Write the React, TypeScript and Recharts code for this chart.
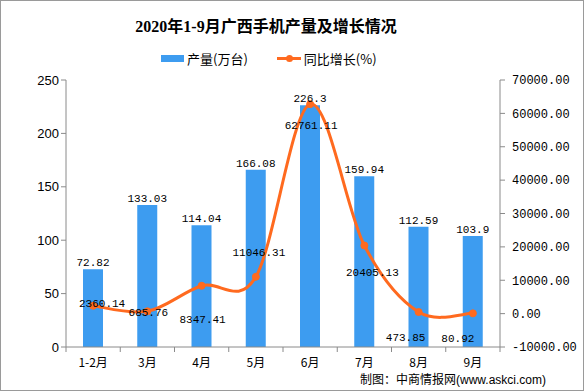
import { ComposedChart, Bar, Line, XAxis, YAxis, LabelList } from "recharts";

const MONTHS = ["1-2月", "3月", "4月", "5月", "6月", "7月", "8月", "9月"];
const OUTPUT = [72.82, 133.03, 114.04, 166.08, 226.3, 159.94, 112.59, 103.9];
const GROWTH = [2360.14, 685.76, 8347.41, 11046.31, 62761.11, 20405.13, 473.85, 80.92];
const LEFT_TICKS = [0, 50, 100, 150, 200, 250];
const RIGHT_TICKS = [-10000, 0, 10000, 20000, 30000, 40000, 50000, 60000, 70000];

// label nudges for the growth line, [dx, dy] from the point
const GROWTH_LABEL_NUDGE: [number, number][] = [
  [9, -3], [1, 1], [1, 33], [3, -25], [1, 21], [8, 26], [-13, 25], [-15, 25],
];

const W = 584;
const H = 391;
const PLOT_LEFT = 66;
const PLOT_RIGHT = 500;
const PLOT_TOP = 80;
const PLOT_BOTTOM = 347;
const BAND = (PLOT_RIGHT - PLOT_LEFT) / MONTHS.length;

const BLUE = "#3d9cf0";
const ORANGE = "#ff6a1f";
const AXIS = "#8a8a8a";
const CJK = "'Noto Sans CJK SC', 'Liberation Sans', sans-serif";
const MONO = "'Liberation Mono', 'Noto Sans CJK SC', monospace";

const data = MONTHS.map((m, i) => ({ month: m, output: OUTPUT[i], growth: GROWTH[i] }));

// catmull-rom style smoothing, like the spreadsheet "smoothed line"
function smoothCurve(context: any) {
  let pts: [number, number][] = [];
  return {
    areaStart() {},
    areaEnd() {},
    lineStart() {
      pts = [];
    },
    lineEnd() {
      if (!pts.length) return;
      context.moveTo(pts[0][0], pts[0][1]);
      for (let i = 0; i < pts.length - 1; i++) {
        const p0 = pts[Math.max(0, i - 1)];
        const p1 = pts[i];
        const p2 = pts[i + 1];
        const p3 = pts[Math.min(pts.length - 1, i + 2)];
        context.bezierCurveTo(
          p1[0] + (p2[0] - p0[0]) / 6,
          p1[1] + (p2[1] - p0[1]) / 6,
          p2[0] - (p3[0] - p1[0]) / 6,
          p2[1] - (p3[1] - p1[1]) / 6,
          p2[0],
          p2[1]
        );
      }
    },
    point(x: number, y: number) {
      pts.push([+x, +y]);
    },
  };
}

function MonthTick(props: any) {
  const { x, payload, index } = props;
  const left = x - BAND / 2;
  return (
    <g>
      <line x1={left} y1={PLOT_BOTTOM} x2={left} y2={PLOT_BOTTOM + 5} stroke={AXIS} />
      {index === MONTHS.length - 1 && (
        <line x1={x + BAND / 2} y1={PLOT_BOTTOM} x2={x + BAND / 2} y2={PLOT_BOTTOM + 5} stroke={AXIS} />
      )}
      <text x={x} y={PLOT_BOTTOM + 20} textAnchor="middle" fontSize={12} fontFamily={CJK} fill="#000">
        {payload.value}
      </text>
    </g>
  );
}

function GrowthLabel(props: any) {
  const { x, y, index, value } = props;
  const [dx, dy] = GROWTH_LABEL_NUDGE[index] ?? [0, 0];
  return (
    <text x={x + dx} y={y + dy + 4} textAnchor="middle" fontSize={11} fontFamily={MONO} fill="#000">
      {value}
    </text>
  );
}

export default function App() {
  return (
    <div
      style={{
        position: "absolute",
        left: 0,
        top: 0,
        width: W,
        height: H,
        boxSizing: "border-box",
        border: "1px solid #9a9a9a",
        background: "#fff",
      }}
    >
      <div
        style={{
          position: "absolute",
          left: 0,
          width: 530,
          top: 12,
          textAlign: "center",
          fontFamily: "'Liberation Serif', 'Noto Sans CJK SC', serif",
          fontWeight: "bold",
          fontSize: 16,
          color: "#000",
        }}
      >
        2020年1-9月广西手机产量及增长情况
      </div>
      <div style={{ position: "absolute", left: 160, top: 48, fontFamily: CJK, fontSize: 13, display: "flex", alignItems: "center" }}>
        <span style={{ display: "inline-block", width: 23, height: 7, background: BLUE, marginRight: 3 }} />
        <span>产量(万台)</span>
        <span style={{ display: "inline-block", position: "relative", width: 24, height: 3, background: ORANGE, marginLeft: 29, marginRight: 3 }}>
          <span style={{ position: "absolute", left: 9, top: -2.5, width: 7, height: 7, borderRadius: 4, background: ORANGE }} />
        </span>
        <span>同比增长(%)</span>
      </div>
      <div style={{ position: "absolute", left: -1, top: -1 }}>
        <ComposedChart
          width={W}
          height={H}
          data={data}
          margin={{ top: PLOT_TOP, right: 0, left: PLOT_LEFT - 40, bottom: H - PLOT_BOTTOM - 24 }}
        >
          <XAxis
            dataKey="month"
            height={24}
            stroke={AXIS}
            tickLine={false}
            tick={<MonthTick />}
            interval={0}
          />
          <YAxis
            yAxisId="left"
            width={40}
            domain={[0, 250]}
            ticks={LEFT_TICKS}
            stroke={AXIS}
            tickSize={5}
            tick={{ fontSize: 13, fill: "#000", fontFamily: "'Liberation Sans', sans-serif" }}
          />
          <YAxis
            yAxisId="right"
            orientation="right"
            width={W - PLOT_RIGHT}
            domain={[-10000, 70000]}
            ticks={RIGHT_TICKS}
            stroke={AXIS}
            tickSize={5}
            tickMargin={7}
            tickFormatter={(v: number) => v.toFixed(2)}
            tick={{ fontSize: 12, fill: "#000", fontFamily: MONO }}
          />
          <Bar yAxisId="left" dataKey="output" fill={BLUE} barSize={20} isAnimationActive={false}>
            <LabelList dataKey="output" position="top" offset={3} fontSize={11} fontFamily={MONO} fill="#000" />
          </Bar>
          <Line
            yAxisId="right"
            dataKey="growth"
            type={smoothCurve as any}
            stroke={ORANGE}
            strokeWidth={3}
            dot={{ r: 3.5, fill: ORANGE, stroke: ORANGE, strokeWidth: 1 }}
            isAnimationActive={false}
          >
            <LabelList dataKey="growth" content={<GrowthLabel />} />
          </Line>
        </ComposedChart>
      </div>
      <div style={{ position: "absolute", left: 359, top: 369, fontSize: 12, fontFamily: CJK, color: "#000" }}>
        制图：中商情报网<span style={{ fontFamily: "'Liberation Sans', sans-serif" }}>(www.askci.com)</span>
      </div>
    </div>
  );
}
